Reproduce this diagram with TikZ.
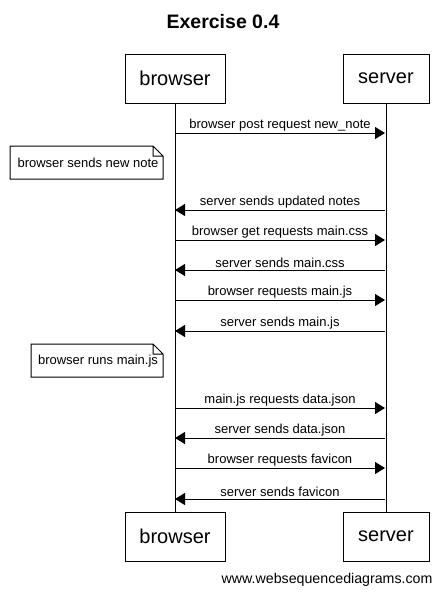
\documentclass[tikz,border=0pt]{standalone}
\usepackage{fontspec}
\setmainfont{Liberation Sans}
\usetikzlibrary{arrows.meta}
\tikzset{
  actor/.style={draw, line width=1pt, fill=white, minimum width=100pt, minimum height=49pt,
    inner sep=0pt, font=\fontsize{20}{24}\selectfont},
  msg/.style={line width=1pt, -{Triangle[length=10pt,width=12pt]}},
  lbl/.style={above, inner sep=1.5pt, font=\fontsize{13}{15}\selectfont},
  notetext/.style={inner sep=0pt, font=\fontsize{13}{15}\selectfont}
}
\begin{document}
\begin{tikzpicture}[x=1pt,y=-1pt]
  \useasboundingbox (0,0) rectangle (443,595);
  \node[font=\bfseries\fontsize{19.5}{23}\selectfont] (title) at (223,22) {Exercise 0.4};

  % participants
  \node[actor] (browser) at (175,78.5) {browser};
  \node[actor, minimum width=86pt] (server) at (386,78.5) {server};
  \node[actor] (browser2) at (175,536.5) {browser};
  \node[actor, minimum width=86pt] (server2) at (386,536.5) {server};
  \draw[line width=1pt] (browser.south) -- (browser2.north)
    (server.south) -- (server2.north);

  % message end points
  \coordinate (b1) at (175,133);  \coordinate (s1) at (385,133);
  \coordinate (b2) at (175,210);  \coordinate (s2) at (385,210);
  \coordinate (b3) at (175,240);  \coordinate (s3) at (385,240);
  \coordinate (b4) at (175,270);  \coordinate (s4) at (385,270);
  \coordinate (b5) at (175,300);  \coordinate (s5) at (385,300);
  \coordinate (b6) at (175,331);  \coordinate (s6) at (385,331);
  \coordinate (b7) at (175,408);  \coordinate (s7) at (385,408);
  \coordinate (b8) at (175,438);  \coordinate (s8) at (385,438);
  \coordinate (b9) at (175,468);  \coordinate (s9) at (385,468);
  \coordinate (b10) at (175,499); \coordinate (s10) at (385,499);

  \draw[msg] (b1) -- node[lbl] {browser post request new\_note} (s1);
  \draw[msg] (s2) -- node[lbl] {server sends updated notes} (b2);
  \draw[msg] (b3) -- node[lbl] {browser get requests main.css} (s3);
  \draw[msg] (s4) -- node[lbl] {server sends main.css} (b4);
  \draw[msg] (b5) -- node[lbl] {browser requests main.js} (s5);
  \draw[msg] (s6) -- node[lbl] {server sends main.js} (b6);
  \draw[msg] (b7) -- node[lbl] {main.js requests data.json} (s7);
  \draw[msg] (s8) -- node[lbl] {server sends data.json} (b8);
  \draw[msg] (b9) -- node[lbl] {browser requests favicon} (s9);
  \draw[msg] (s10) -- node[lbl] {server sends favicon} (b10);

  % notes
  \node[notetext] (note1) at (88,163) {browser sends new note};
  \draw[line width=1pt] (10,146) -- (153,146) -- (163,156) -- (163,179) -- (10,179) -- cycle
    (153,146) -- (153,156) -- (163,156);
  \node[notetext] (note2) at (98,361) {browser runs main.js};
  \draw[line width=1pt] (31,344) -- (153,344) -- (163,354) -- (163,377) -- (31,377) -- cycle
    (153,344) -- (153,354) -- (163,354);

  \node[anchor=east, font=\fontsize{14.2}{16}\selectfont] (credit) at (436,580) {www.websequencediagrams.com};
\end{tikzpicture}
\end{document}
